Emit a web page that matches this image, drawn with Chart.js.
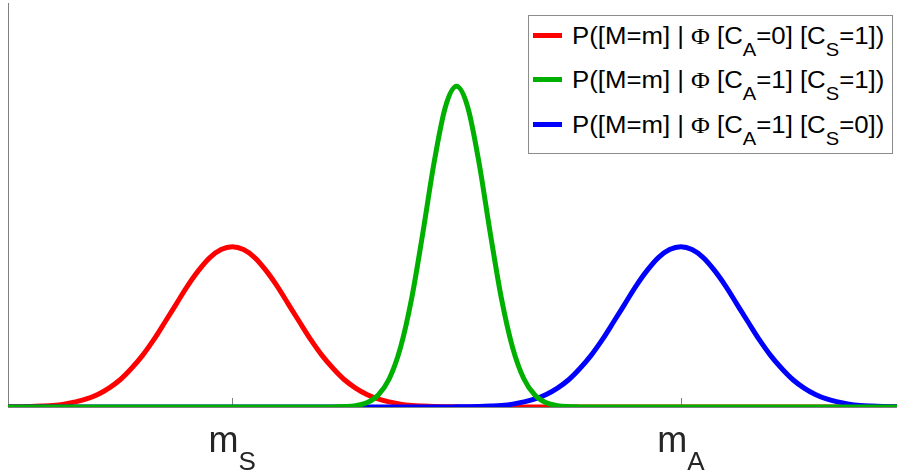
<!DOCTYPE html>
<html>
<head>
<meta charset="utf-8">
<title>P([M=m] | Φ)</title>
<script src="https://cdn.jsdelivr.net/npm/chart.js@4.4.1/dist/chart.umd.min.js"></script>
<style>
  body { margin: 0; background: #fff; font-family: "Liberation Sans", Arial, sans-serif; }
  #wrap { position: relative; width: 897px; height: 474px; }
  #legend {
    position: absolute; left: 528px; top: 15px; width: 363px; height: 137px;
    border: 1px solid #8c8c8c; background: #fff;
  }
  .row { position: absolute; left: 0; width: 363px; height: 26px; line-height: 26px; font-size: 23px; color: #000; white-space: nowrap; }
  .row .swatch { position: absolute; left: 4px; top: 10px; width: 29px; height: 5px; }
  .row .txt { position: absolute; left: 43px; top: 0; transform: scaleX(1.12); transform-origin: 0 0; }
  .sub { font-size: 18px; position: relative; top: 12px; }
  .phi { font-family: "Liberation Serif", "Times New Roman", serif; }
  .tick { position: absolute; top: 420px; height: 40px; line-height: 40px; font-size: 36px; color: #262626; white-space: nowrap; transform: translateX(-50%); }
  .tick .s { font-size: 26px; position: relative; top: 18px; }
</style>
</head>
<body>
<div id="wrap">
  <canvas id="chart" width="897" height="474"></canvas>
  <div id="legend"></div>
</div>
<script>
// values, on a grid of m from -2 to 2
const mValues = [
  -2.00, -1.95, -1.90, -1.85, -1.80, -1.75, -1.70, -1.65, -1.60, -1.55,
  -1.50, -1.45, -1.40, -1.35, -1.30, -1.25, -1.20, -1.15, -1.10, -1.05,
  -1.00, -0.95, -0.90, -0.85, -0.80, -0.75, -0.70, -0.65, -0.60, -0.55,
  -0.50, -0.45, -0.40, -0.35, -0.30, -0.25, -0.20, -0.15, -0.10, -0.05,
   0.00,  0.05,  0.10,  0.15,  0.20,  0.25,  0.30,  0.35,  0.40,  0.45,
   0.50,  0.55,  0.60,  0.65,  0.70,  0.75,  0.80,  0.85,  0.90,  0.95,
   1.00,  1.05,  1.10,  1.15,  1.20,  1.25,  1.30,  1.35,  1.40,  1.45,
   1.50,  1.55,  1.60,  1.65,  1.70,  1.75,  1.80,  1.85,  1.90,  1.95,
   2.00
]

// C_A=0, C_S=1 (red)
const redValues = [
  0.0004, 0.0008, 0.0016, 0.003, 0.005, 0.009, 0.016, 0.025, 0.039, 0.059,
  0.085, 0.120, 0.161, 0.210, 0.265, 0.321, 0.377, 0.426, 0.466, 0.491,
  0.500, 0.491, 0.466, 0.426, 0.377, 0.321, 0.265, 0.210, 0.161, 0.120,
  0.085, 0.059, 0.039, 0.025, 0.016, 0.009, 0.005, 0.003, 0.0016, 0.0008,
  0.0004, 0, 0, 0, 0, 0, 0, 0, 0, 0,
  0, 0, 0, 0, 0, 0, 0, 0, 0, 0,
  0, 0, 0, 0, 0, 0, 0, 0, 0, 0,
  0, 0, 0, 0, 0, 0, 0, 0, 0, 0,
  0
]

// C_A=1, C_S=1 (green)
const greenValues = [
  0, 0, 0, 0, 0, 0, 0, 0, 0, 0,
  0, 0, 0, 0, 0, 0, 0, 0, 0, 0,
  0, 0, 0, 0, 0, 0, 0, 0, 0, 0.0003,
  0.0012, 0.0042, 0.0132, 0.0365, 0.088, 0.185, 0.339, 0.544, 0.763, 0.935,
  1.000, 0.935, 0.763, 0.544, 0.339, 0.185, 0.088, 0.0365, 0.0132, 0.0042,
  0.0012, 0.0003, 0, 0, 0, 0, 0, 0, 0, 0,
  0, 0, 0, 0, 0, 0, 0, 0, 0, 0,
  0, 0, 0, 0, 0, 0, 0, 0, 0, 0,
  0
]

// C_A=1, C_S=0 (blue)
const blueValues = [
  0, 0, 0, 0, 0, 0, 0, 0, 0, 0,
  0, 0, 0, 0, 0, 0, 0, 0, 0, 0,
  0, 0, 0, 0, 0, 0, 0, 0, 0, 0,
  0, 0, 0, 0, 0, 0, 0, 0, 0, 0,
  0.0004, 0.0008, 0.0016, 0.003, 0.005, 0.009, 0.016, 0.025, 0.039, 0.059,
  0.085, 0.120, 0.161, 0.210, 0.265, 0.321, 0.377, 0.426, 0.466, 0.491,
  0.500, 0.491, 0.466, 0.426, 0.377, 0.321, 0.265, 0.210, 0.161, 0.120,
  0.085, 0.059, 0.039, 0.025, 0.016, 0.009, 0.005, 0.003, 0.0016, 0.0008,
  0.0004
]

const tickValues = [-1, 1]
const tickNames = ['m', 'm']
const tickSubs = ['S', 'A']

// legend entries: [colour, C_A, C_S]
const legendItems = [
  ['#ff0000', '0', '1'],
  ['#00b000', '1', '1'],
  ['#0000ff', '1', '0'],
]

function points(ys) {
  return mValues.map((x, i) => ({x: x, y: ys[i]}))
}

function line(ys, colour) {
  return {
    data: points(ys),
    borderColor: colour,
    borderWidth: 5,
    pointRadius: 0,
    cubicInterpolationMode: 'monotone',
    fill: false,
  }
}

// small ticks pointing up into the plot
const innerTicks = {
  id: 'innerTicks',
  beforeDatasetsDraw(chart) {
    const ctx = chart.ctx
    const xs = chart.scales.x
    const bottom = chart.chartArea.bottom
    ctx.save()
    ctx.strokeStyle = '#808080'
    ctx.lineWidth = 1
    for (const v of tickValues) {
      const px = Math.round(xs.getPixelForValue(v)) + 0.5
      ctx.beginPath()
      ctx.moveTo(px, bottom)
      ctx.lineTo(px, bottom - 9)
      ctx.stroke()
    }
    ctx.restore()
  }
}

const chart = new Chart(document.getElementById('chart'), {
  type: 'line',
  // green first so it ends up drawn on top
  data: {
    datasets: [
      line(greenValues, legendItems[1][0]),
      line(blueValues, legendItems[2][0]),
      line(redValues, legendItems[0][0]),
    ]
  },
  options: {
    responsive: false,
    animation: false,
    layout: {padding: {left: 8, top: 3, right: 0, bottom: 67}},
    plugins: {legend: {display: false}, tooltip: {enabled: false}},
    scales: {
      x: {
        type: 'linear', min: -2, max: 1.964,
        ticks: {display: false},
        grid: {display: false, drawTicks: false},
        border: {display: true, color: '#808080', width: 1},
      },
      y: {
        min: 0, max: 1.26,
        ticks: {display: false},
        grid: {display: false, drawTicks: false},
        border: {display: true, color: '#808080', width: 1},
      }
    }
  },
  plugins: [innerTicks]
})

// tick labels with subscripts, placed from the x scale
const wrap = document.getElementById('wrap')
tickValues.forEach((v, i) => {
  const d = document.createElement('div')
  d.className = 'tick'
  d.style.left = chart.scales.x.getPixelForValue(v) + 'px'
  d.innerHTML = tickNames[i] + '<span class="s">' + tickSubs[i] + '</span>'
  wrap.appendChild(d)
})

// legend
const legend = document.getElementById('legend')
legendItems.forEach((item, i) => {
  const row = document.createElement('div')
  row.className = 'row'
  row.style.top = (7 + i * 44.3) + 'px'
  row.innerHTML = '<span class="swatch" style="background:' + item[0] + '"></span>' +
    '<span class="txt">P([M=m] | <span class="phi">Φ</span> [C<span class="sub">A</span>=' + item[1] +
    '] [C<span class="sub">S</span>=' + item[2] + '])</span>'
  legend.appendChild(row)
})
</script>
</body>
</html>
